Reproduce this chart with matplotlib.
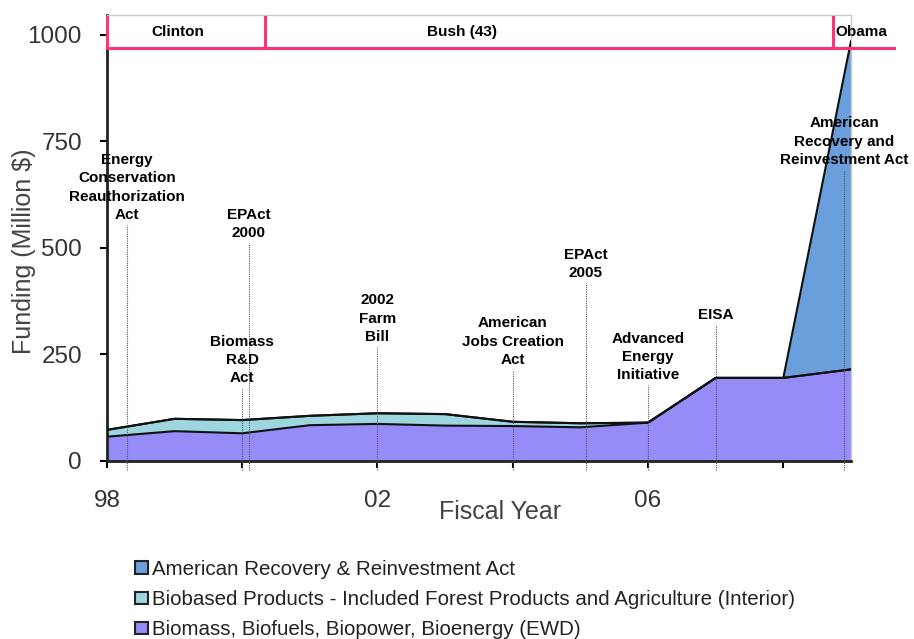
import matplotlib
matplotlib.use("Agg")
import matplotlib.pyplot as plt
import numpy as np

plt.rcParams['font.family'] = ['Liberation Sans', 'DejaVu Sans']

# funding by fiscal year (million $)
years = [1998, 1999, 2000, 2001, 2002, 2003, 2004, 2005, 2006, 2007, 2008, 2009]
ewd = [57, 70, 65, 84, 87, 83, 82, 79, 90, 195, 195, 215]
biobased = [16, 29, 31, 22, 25, 27, 10, 9.5, 0, 0, 0, 0]
arra = [0, 0, 0, 0, 0, 0, 0, 0, 0, 0, 0, 770]

series_names = ["Biomass, Biofuels, Biopower, Bioenergy (EWD)",
                "Biobased Products - Included Forest Products and Agriculture (Interior)",
                "American Recovery & Reinvestment Act"]
series_colors = ["#958cf8", "#9dd6df", "#6a9fdb"]

# legislative events: label, year, top of the marker line
event_labels = ["Energy\nConservation\nReauthorization\nAct", "EPAct\n2000", "Biomass\nR&D\nAct",
                "2002\nFarm\nBill", "American\nJobs Creation\nAct", "EPAct\n2005",
                "Advanced\nEnergy\nInitiative", "EISA", "American\nRecovery and\nReinvestment Act"]
event_years = [1998.3, 2000.1, 2000.0, 2002.0, 2004.0, 2005.08, 2006.0, 2007.0, 2008.9]
event_tops = [554, 512, 171, 268, 214, 418, 178, 319, 683]

# administrations
pres_names = ["Clinton", "Bush (43)", "Obama"]
pres_starts = [1998, 2000.34, 2008.74]
pres_ends = [2000.34, 2008.74, 2009.63]

PINK = "#ff3378"

fig = plt.figure(figsize=(9.14, 6.39), dpi=100)
ax = fig.add_axes([0.117, 0.2786, 0.814, 0.698])

x = np.array(years)
layers = [np.array(ewd), np.array(biobased), np.array(arra)]
base = np.zeros(len(x))
handles = []
for vals, name, clr in zip(layers, series_names, series_colors):
    top = base + vals
    h = ax.fill_between(x, base, top, facecolor=clr, edgecolor="none", label=name, zorder=2)
    handles.append(h)
    base = top
base = np.zeros(len(x))
for vals in layers:
    base = base + vals
    ax.plot(x, base, color="#111111", lw=1.5, zorder=3)

# event markers
for lbl, yr, t in zip(event_labels, event_years, event_tops):
    ax.plot([yr, yr], [-22, t], color="#555555", lw=0.8, ls=(0, (1, 1)), clip_on=False, zorder=4)
    ax.annotate(lbl, (yr, t), xytext=(0, 2), textcoords="offset points", ha="center", va="bottom",
                fontsize=11, fontweight="bold", linespacing=1.4, zorder=5)

# presidential bar
y_line, y_top = 969, 1042
ax.plot([1998, 2009.63], [y_line, y_line], color=PINK, lw=2.2, clip_on=False, zorder=6)
for s in pres_starts:
    ax.plot([s, s], [y_line, y_top], color=PINK, lw=2.2, clip_on=False, zorder=6)
ax.text(1999.05, 1007, pres_names[0], ha="center", va="center", fontsize=11, fontweight="bold")
ax.text(2003.25, 1007, pres_names[1], ha="center", va="center", fontsize=11, fontweight="bold")
ax.text(2009.15, 1007, pres_names[2], ha="center", va="center", fontsize=11, fontweight="bold")

ax.set_xlim(1998, 2009)
ax.set_ylim(0, 1047)
ax.set_yticks([0, 250, 500, 750, 1000])
ax.set_xticks([1998, 2000, 2002, 2004, 2006, 2008])
ax.set_xticklabels(["98", "", "02", "", "06", ""])
ax.tick_params(axis="y", direction="out", length=5, width=1.5, pad=13, labelsize=17.5, labelcolor="#333333")
ax.tick_params(axis="x", direction="out", length=5, width=1.5, pad=16, labelsize=17.5, labelcolor="#333333")

for side in ["left", "bottom"]:
    ax.spines[side].set_linewidth(2)
    ax.spines[side].set_color("#222222")
for side in ["top", "right"]:
    ax.spines[side].set_linewidth(1)
    ax.spines[side].set_color("#c8c8c8")

ax.text(-0.112, 0.47, "Funding (Million $)", transform=ax.transAxes, rotation=90,
        ha="center", va="center", fontsize=18, color="#444444")
ax.text(0.528, -0.115, "Fiscal Year", transform=ax.transAxes, ha="center", va="center",
        fontsize=18, color="#444444")

leg = fig.legend(handles[::-1], series_names[::-1], loc="upper left", bbox_to_anchor=(0.1477, 0.124),
                 frameon=False, fontsize=14.8, handlelength=0.63, handleheight=0.55, handletextpad=0.2,
                 labelspacing=0.55, borderpad=0, borderaxespad=0)
for h in leg.legend_handles:
    h.set_edgecolor("#222222")
    h.set_linewidth(1.5)
for t in leg.get_texts():
    t.set_color("#222222")

fig.savefig("out.png", dpi=100)
